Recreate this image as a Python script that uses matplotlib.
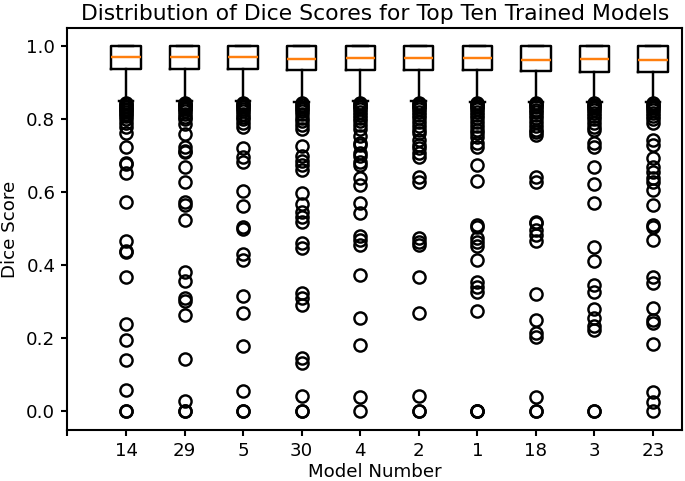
import numpy as np
import matplotlib
matplotlib.use('Agg')
import matplotlib.pyplot as plt

models = ['14', '29', '5', '30', '4', '2', '1', '18', '3', '23']
medians = [0.970, 0.972, 0.972, 0.966, 0.969, 0.968, 0.968, 0.963, 0.966, 0.963]
q1 = [0.937, 0.937, 0.937, 0.936, 0.936, 0.936, 0.936, 0.934, 0.931, 0.931]
q3 = [1.0] * 10
whislo = [0.850, 0.850, 0.851, 0.849, 0.850, 0.850, 0.849, 0.849, 0.848, 0.848]
whishi = [1.0] * 10

# outliers, one list per model
fl_14 = [0.846, 0.842, 0.838, 0.834, 0.83, 0.825, 0.82, 0.815, 0.81, 0.80, 0.79,
         0.780, 0.762, 0.724, 0.682, 0.677, 0.653, 0.575,
         0.467, 0.440, 0.436, 0.368, 0.240, 0.196, 0.141, 0.059, 0.0, 0.0]
fl_29 = [0.846, 0.843, 0.84, 0.836, 0.832, 0.828, 0.822, 0.815, 0.808, 0.80,
         0.787, 0.760, 0.724, 0.715, 0.712, 0.671, 0.630, 0.573, 0.566, 0.525,
         0.383, 0.358, 0.310, 0.304, 0.264, 0.143, 0.029, 0.0, 0.0]
fl_5 = [0.846, 0.842, 0.838, 0.833, 0.828, 0.822, 0.815, 0.808, 0.80,
        0.790, 0.780, 0.721, 0.698, 0.684, 0.604, 0.564, 0.506,
        0.500, 0.431, 0.415, 0.317, 0.271, 0.180, 0.057, 0.0, 0.0]
fl_30 = [0.845, 0.84, 0.835, 0.83, 0.822, 0.815, 0.805, 0.795, 0.785, 0.775,
         0.727, 0.700, 0.687, 0.675, 0.662, 0.598, 0.568, 0.547, 0.532, 0.520,
         0.461, 0.447, 0.324, 0.310, 0.292, 0.146, 0.134, 0.042, 0.0, 0.0]
fl_4 = [0.846, 0.842, 0.838, 0.834, 0.828, 0.82, 0.812, 0.803, 0.795, 0.785, 0.775,
        0.755, 0.735, 0.730, 0.707, 0.700, 0.684, 0.675, 0.639, 0.621, 0.570, 0.545,
        0.481, 0.470, 0.456, 0.374, 0.255, 0.182, 0.041, 0.0]
fl_2 = [0.846, 0.842, 0.838, 0.833, 0.828, 0.82, 0.812, 0.803, 0.793, 0.783, 0.772, 0.762,
        0.744, 0.730, 0.721, 0.707, 0.698, 0.643, 0.630,
        0.475, 0.465, 0.456, 0.368, 0.269, 0.042, 0.0, 0.0]
fl_1 = [0.846, 0.842, 0.838, 0.833, 0.828, 0.82, 0.812, 0.803, 0.793, 0.783, 0.772, 0.762, 0.753,
        0.735, 0.724, 0.675, 0.632, 0.511,
        0.506, 0.475, 0.465, 0.452, 0.415, 0.356, 0.342, 0.328, 0.276, 0.0, 0.0, 0.0]
fl_18 = [0.846, 0.842, 0.838, 0.833, 0.827, 0.82, 0.812, 0.803, 0.793, 0.783, 0.772, 0.765, 0.757,
         0.643, 0.630, 0.520,
         0.516, 0.497, 0.484, 0.468, 0.322, 0.251, 0.214, 0.203, 0.041, 0.0, 0.0]
fl_3 = [0.845, 0.841, 0.837, 0.832, 0.826, 0.818, 0.81, 0.80, 0.79, 0.78, 0.772,
        0.735, 0.725, 0.671, 0.623, 0.570,
        0.450, 0.413, 0.347, 0.328, 0.280, 0.255, 0.234, 0.223, 0.0, 0.0]
fl_23 = [0.845, 0.841, 0.837, 0.832, 0.826, 0.818, 0.81, 0.80, 0.79,
         0.744, 0.730, 0.694, 0.671, 0.657, 0.639, 0.630, 0.607, 0.566, 0.511,
         0.506, 0.470, 0.369, 0.351, 0.283, 0.251, 0.242, 0.185, 0.054, 0.027, 0.0]
fliers = [fl_14, fl_29, fl_5, fl_30, fl_4, fl_2, fl_1, fl_18, fl_3, fl_23]

stats = []
for i in range(len(models)):
    stats.append({'med': medians[i], 'q1': q1[i], 'q3': q3[i],
                  'whislo': whislo[i], 'whishi': whishi[i],
                  'fliers': np.array(fliers[i]), 'label': models[i]})

plt.rcParams['font.size'] = 10.5
plt.rcParams['axes.linewidth'] = 1.2
plt.rcParams['xtick.major.width'] = 1.2
plt.rcParams['ytick.major.width'] = 1.2

fig = plt.figure(figsize=(685 / 125, 481 / 125), dpi=125)
ax = fig.add_axes([0.0985, 0.1066, 0.8975, 0.8347])
lw = 1.4
ax.bxp(stats, positions=range(1, len(models) + 1),
       boxprops=dict(linewidth=lw), whiskerprops=dict(linewidth=lw),
       capprops=dict(linewidth=lw), medianprops=dict(linewidth=lw, color='C1'),
       flierprops=dict(marker='o', markerfacecolor='none', markeredgecolor='black',
                       markersize=7, markeredgewidth=1.4))
ax.set_xticks(range(0, len(models) + 1))
ax.set_xticklabels([''] + models)
ax.set_xlim(0, len(models) + 0.5)
ax.set_ylim(-0.05, 1.05)
ax.set_title('Distribution of Dice Scores for Top Ten Trained Models', fontsize=12.6, pad=5)
ax.set_xlabel('Model Number', labelpad=2)
ax.set_ylabel('Dice Score', labelpad=4)
fig.savefig('out.png', dpi=125)
